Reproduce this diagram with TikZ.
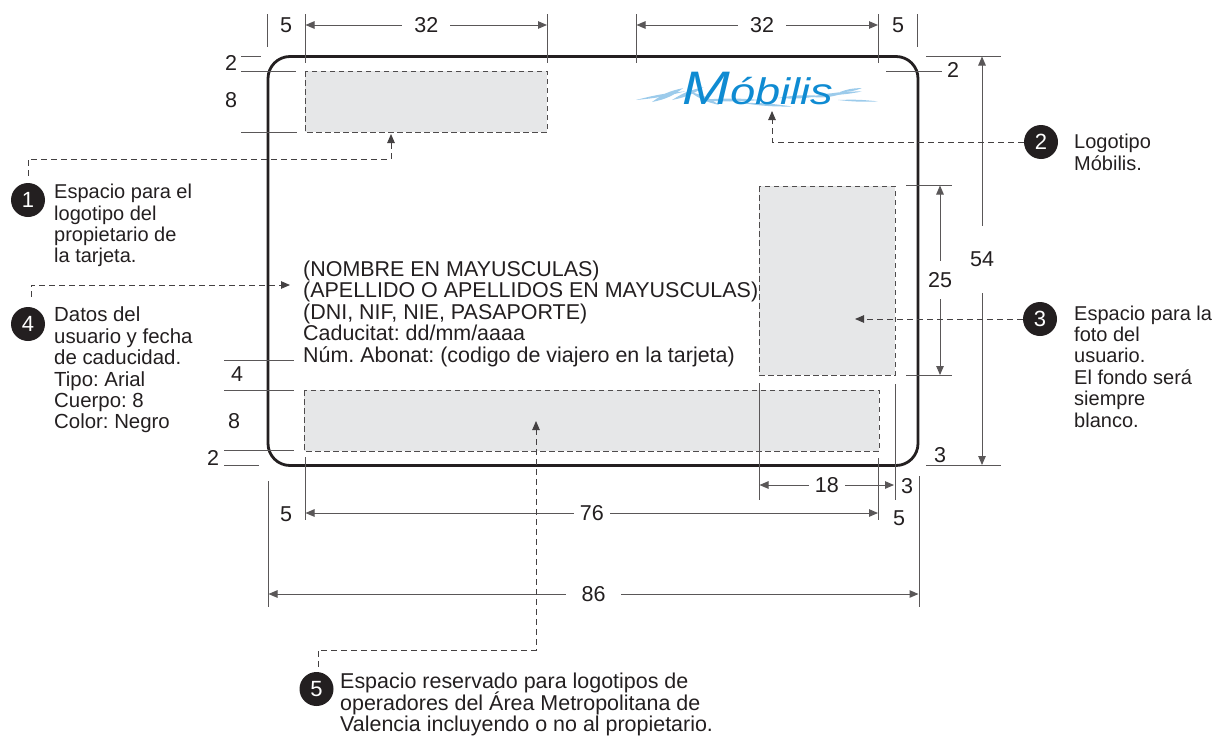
\documentclass[tikz,border=0pt]{standalone}
\usepackage{fontspec}
\setmainfont{Liberation Sans}
\usetikzlibrary{arrows.meta,calc}
\definecolor{ink}{HTML}{231F20}
\definecolor{slot}{HTML}{E6E7E8}
\definecolor{logoblue}{HTML}{0F8BD2}
\definecolor{logowave}{HTML}{9CCBEB}
\frenchspacing
\lineskiplimit=-6pt

\begin{document}
\begin{tikzpicture}[x=1pt,y=-1pt,
  ink,font=\fontsize{20}{21.4}\selectfont,
  card/.style={line width=2.8pt,rounded corners=22pt},
  slotbox/.style={draw=ink!80,fill=slot,line width=1pt,dash pattern=on 5.5pt off 3.5pt},
  tick/.style={ink!75,line width=1pt},
  dimline/.style={ink!75,line width=1pt,{Triangle[length=9pt,width=7.5pt]}-{Triangle[length=9pt,width=7.5pt]}},
  dimtext/.style={fill=white,text=ink,inner sep=0pt,font=\fontsize{21.5}{21.5}\selectfont},
  lbl/.style={inner sep=0pt,text=ink,font=\fontsize{21.5}{21.5}\selectfont},
  leader/.style={ink!85,line width=.9pt,dash pattern=on 6pt off 4pt,-{Triangle[length=9pt,width=7.5pt]}},
  bullet/.style={circle,fill=ink,text=white,minimum size=34pt,inner sep=0pt,font=\fontsize{22}{22}\selectfont},
  note/.style={anchor=north west,align=left,inner sep=0pt,text=ink},
  large note/.style={note,font=\fontsize{21.45}{21.5}\selectfont}]
\path[use as bounding box] (0,0) rectangle (1217,736);

% reserved areas
\draw[slotbox] (305,71) rectangle (547,132);
\draw[slotbox] (759,186) rectangle (895,375);
\draw[slotbox] (304,390) rectangle (879,451);

% logo
\foreach \x/\y/\l/\h/\a in {
  636/100/50/1.6/10, 652/102/34/3/24, 672/100/34/2.5/22, 690/92/32/2.5/-24,
  700/100/60/2/0, 742/103/50/1.6/-4, 778/98/42/2/3, 812/97/30/2.2/6,
  822/95/40/1.6/5, 838/100/40/1.2/-2, 840/92/22/1.6/10}
  \fill[logowave,shift={(\x,\y)},rotate=\a] (0,0) .. controls (\l*.4,-\h) and (\l*.6,-\h) .. (\l,0)
    .. controls (\l*.6,\h) and (\l*.4,\h) .. cycle;
\node[inner sep=0pt,text=logoblue,xscale=1.22] (logo) at (758,89)
  {\itshape\fontsize{47}{47}\selectfont M\fontsize{37}{37}\selectfont óbilis};

% card
\draw[card] (268,56.5) rectangle (918,465.5);

% extension lines
\foreach \xa/\ya/\xb/\yb in {
  305/14/305/63, 547/14/547/63, 267/14/267/47,
  636/14/636/63, 878/14/878/63, 917/14/917/47,
  241/56/261/56, 241/71/296/71, 241/132/297/132,
  886/71/942/71, 926/56.5/1001/56.5,
  906/185/952/185, 906/375/952/375,
  759/383/759/500, 895/384/895/500, 926/465.5/1001/465.5,
  224/360/294/360, 224/390/294/390, 224/450.5/294/450.5, 224/465.5/259/465.5,
  305/457/305/520, 878.5/458/878.5/520,
  268/481/268/607, 919/476/919/607}
  \draw[tick] (\xa,\ya) -- (\xb,\yb);

% dimensions
\draw[dimline] (305.5,25) -- node[dimtext,minimum width=48pt] {32} (547,25);
\draw[dimline] (636.5,25) -- node[dimtext,minimum width=48pt,pos=.52] {32} (878,25);
\draw[dimline] (982,56.5) -- node[dimtext,minimum height=67pt,pos=.497] {54} (982,465);
\draw[dimline] (940,185.5) -- node[dimtext,minimum height=38pt,pos=.5] {25} (940,375);
\draw[dimline] (759.5,485) -- node[dimtext,minimum width=36pt] {18} (894,485);
\draw[dimline] (305.5,513) -- node[dimtext,minimum width=36pt] {76} (878,513);
\draw[dimline] (268.5,594) -- node[dimtext,minimum width=55pt] {86} (918.5,594);

% loose figures
\foreach \x/\y/\t/\nm in {286/25/5/a, 898/25/5/b, 231/63/2/c, 231/100/8/d,
  953/70/2/e, 907/486/3/f, 899/518/5/g, 940/455/3/h,
  237/374/4/i, 234/421/8/j, 213/458/2/k, 286/514/5/l}
  \node[lbl] (fig\nm) at (\x,\y) {\t};

% the text on the card
\node[large note] (holder) at (303,260.5) {(NOMBRE EN MAYUSCULAS)\\(APELLIDO O APELLIDOS EN MAYUSCULAS)\\(DNI, NIF, NIE, PASAPORTE)\\Caducitat: dd/mm/aaaa\\Núm. Abonat: (codigo de viajero en la tarjeta)};

% numbered notes
\node[bullet] (numA) at (28,200) {1};
\node[bullet] (numB) at (1041,142) {2};
\node[bullet] (numC) at (1040,319) {3};
\node[bullet] (numD) at (28,324) {4};
\node[bullet] (numE) at (316.5,689) {5};

\node[note] (noteA) at (54,184) {Espacio para el\\logotipo del\\propietario de\\la tarjeta.};
\node[note] (noteB) at (1074,134) {Logotipo\\Móbilis.};
\node[note] (noteC) at (1074,305.5) {Espacio para la\\foto del\\usuario.\\El fondo será\\siempre\\blanco.};
\node[note,font=\fontsize{20.4}{21.4}\selectfont] (noteD) at (54,307) {Datos del\\usuario y fecha\\de caducidad.\\Tipo: Arial\\Cuerpo: 8\\Color: Negro};
\node[large note] (noteE) at (340,673) {Espacio reservado para logotipos de\\operadores del Área Metropolitana de\\Valencia incluyendo o no al propietario.};

% leaders
\coordinate (tipA) at (391,134);
\coordinate (tipB) at (772,111);
\coordinate (tipC) at (855,319);
\coordinate (tipD) at (290,285);
\coordinate (tipE) at (536,421);
\draw[leader] ($(numA.north)+(0,-7)$) -- (28,159) -| (tipA);
\draw[leader] (numB.west) -| (tipB);
\draw[leader] (numC.west) -- (tipC);
\draw[leader] ($(numD.north)+(3,-10)$) |- (tipD);
\draw[leader] ($(numE.north)+(1.5,-5)$) -- (318,650) -| (tipE);
\end{tikzpicture}
\end{document}
